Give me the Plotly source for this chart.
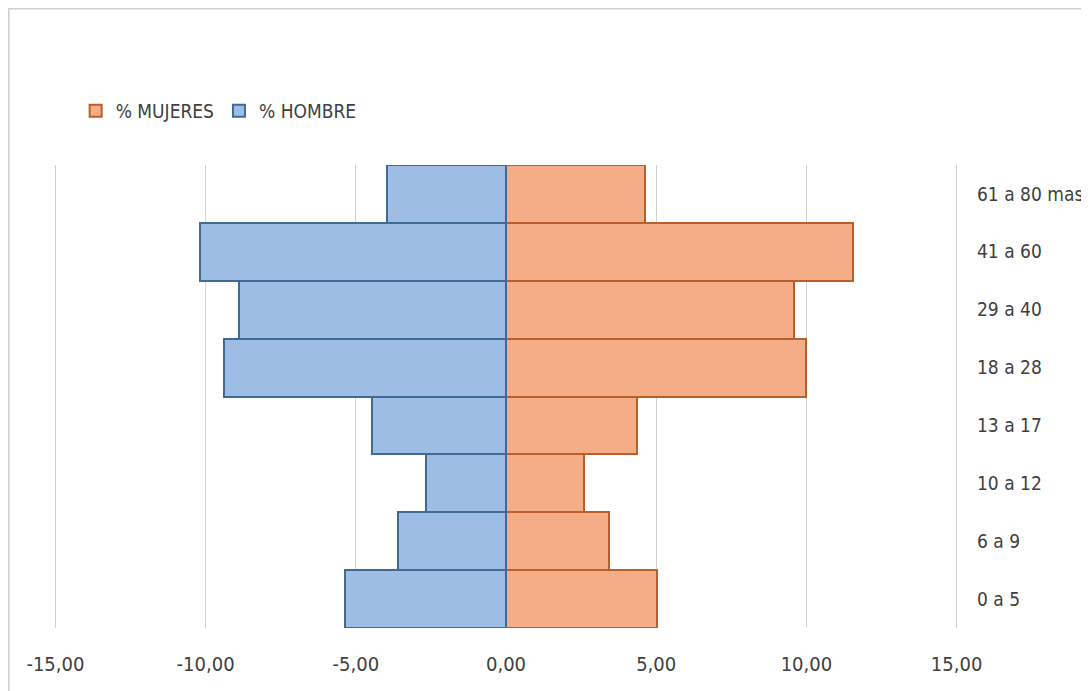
import plotly.graph_objects as go

categorias = ["0 a 5", "6 a 9", "10 a 12", "13 a 17", "18 a 28", "29 a 40", "41 a 60", "61 a 80 mas"]
hombre = [-5.36, -3.58, -2.65, -4.47, -9.40, -8.90, -10.20, -3.97]
mujeres = [5.03, 3.44, 2.58, 4.37, 10.00, 9.60, 11.56, 4.64]
x_ticks = [-15, -10, -5, 0, 5, 10, 15]
x_ticktext = ["-15,00", "-10,00", "-5,00", "0,00", "5,00", "10,00", "15,00"]

FONT = "DejaVu Sans Condensed, Liberation Sans Narrow, Roboto, sans-serif"

fig = go.Figure()
fig.add_trace(go.Bar(
    y=categorias, x=mujeres, orientation="h", name="% MUJERES",
    marker=dict(color="#F5AD88", line=dict(color="#B85F2A", width=2)),
))
fig.add_trace(go.Bar(
    y=categorias, x=hombre, orientation="h", name="% HOMBRE",
    marker=dict(color="#9EBDE4", line=dict(color="#3F6A96", width=2)),
))

fig.update_layout(
    width=1089, height=691,
    barmode="overlay", bargap=0,
    paper_bgcolor="white", plot_bgcolor="white",
    margin=dict(l=45, r=138, t=157, b=71, autoexpand=False),
    font=dict(family=FONT, size=20, color="#404040"),
    legend=dict(orientation="h", x=0.025, y=1.117, xanchor="left", yanchor="middle",
                font=dict(size=19, color="#404040"), itemwidth=30, traceorder="normal"),
    xaxis=dict(range=[-15.08, 15.08], tickvals=x_ticks, ticktext=x_ticktext,
               showgrid=True, gridcolor="#D0D0D0", gridwidth=1, zeroline=False,
               showline=False, ticks="", automargin=False, ticklabelstandoff=22,
               tickfont=dict(size=20, color="#404040")),
    yaxis=dict(side="right", range=[-0.5, 7.5], showgrid=False, zeroline=False,
               showline=False, ticks="", ticklabelstandoff=17, automargin=False,
               tickfont=dict(size=19, color="#404040")),
    shapes=[dict(type="rect", xref="paper", yref="paper", x0=-0.049, x1=1.2, y0=-0.2, y1=1.338,
                 line=dict(color="#D0D0D0", width=2))],
)

fig.write_html("out.html")
